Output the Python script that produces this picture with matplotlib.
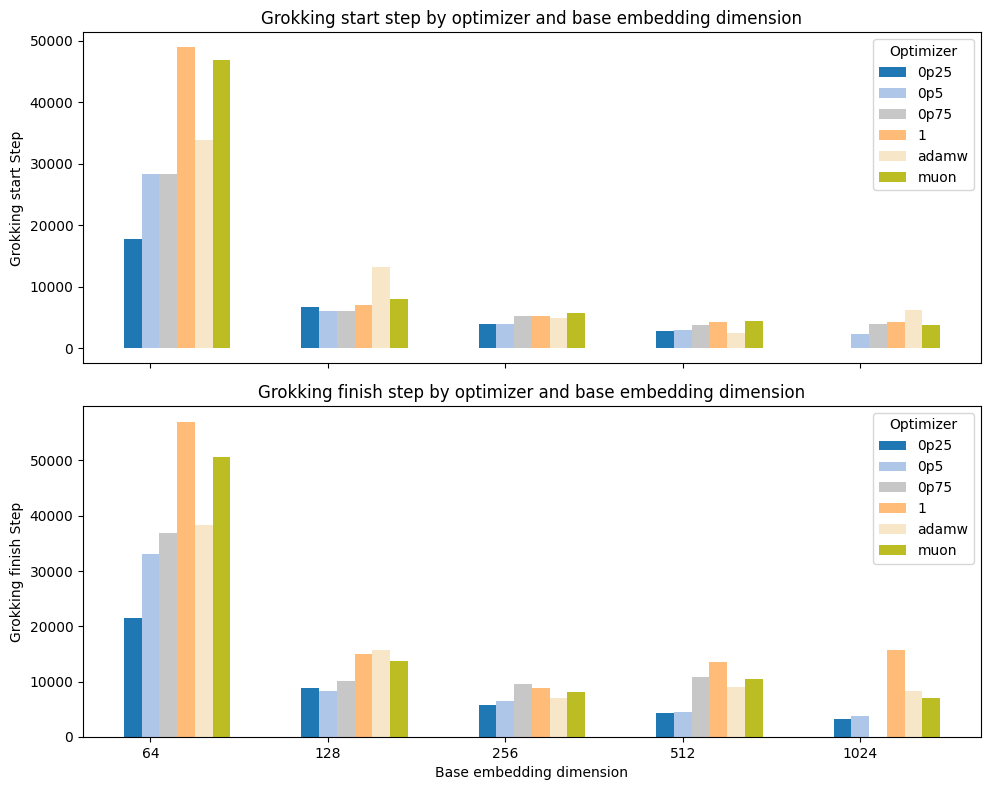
import numpy as np
import matplotlib
matplotlib.use("Agg")
import matplotlib.pyplot as plt

dims = ["64", "128", "256", "512", "1024"]
optimizers = ["0p25", "0p5", "0p75", "1", "adamw", "muon"]
colors = ["#1f77b4", "#aec7e8", "#c7c7c7", "#ffbb78", "#f7e6c8", "#bcbd22"]

start_0p25 = [17700, 6700, 3950, 2810, np.nan]
start_0p5 = [28300, 6050, 3950, 2970, 2320]
start_0p75 = [28300, 6050, 5240, 3780, 3950]
start_1 = [48900, 7030, 5240, 4270, 4270]
start_adamw = [33800, 13200, 4920, 2480, 6220]
start_muon = [46800, 8000, 5730, 4430, 3780]

finish_0p25 = [21560, 8910, 5840, 4390, 3310]
finish_0p5 = [33130, 8370, 6560, 4570, 3850]
finish_0p75 = [36930, 10180, 9630, 10900, np.nan]
finish_1 = [57000, 15060, 8910, 13610, 15780]
finish_adamw = [38370, 15780, 7100, 9090, 8370]
finish_muon = [50600, 13790, 8190, 10540, 7100]

start = [start_0p25, start_0p5, start_0p75, start_1, start_adamw, start_muon]
finish = [finish_0p25, finish_0p5, finish_0p75, finish_1, finish_adamw, finish_muon]

fig, (ax1, ax2) = plt.subplots(2, 1, figsize=(9.89, 7.9), dpi=100, sharex=True)
x = np.arange(len(dims))
width = 0.1

for ax, data, title, ylabel in [
    (ax1, start, "Grokking start step by optimizer and base embedding dimension", "Grokking start Step"),
    (ax2, finish, "Grokking finish step by optimizer and base embedding dimension", "Grokking finish Step"),
]:
    for i, (name, vals) in enumerate(zip(optimizers, data)):
        ax.bar(x + (i - 1) * width, vals, width, label=name, color=colors[i])
    ax.set_title(title, fontsize=12)
    ax.set_ylabel(ylabel)
    ax.legend(title="Optimizer", loc="upper right")

ax1.use_sticky_edges = False
ax1.autoscale_view()
ax2.set_xticks(x)
ax2.set_xticklabels(dims)
ax2.set_xlabel("Base embedding dimension")

fig.subplots_adjust(left=0.0839, right=0.9919, top=0.959, bottom=0.0671, hspace=0.128)
fig.savefig("out.png", dpi=100)
